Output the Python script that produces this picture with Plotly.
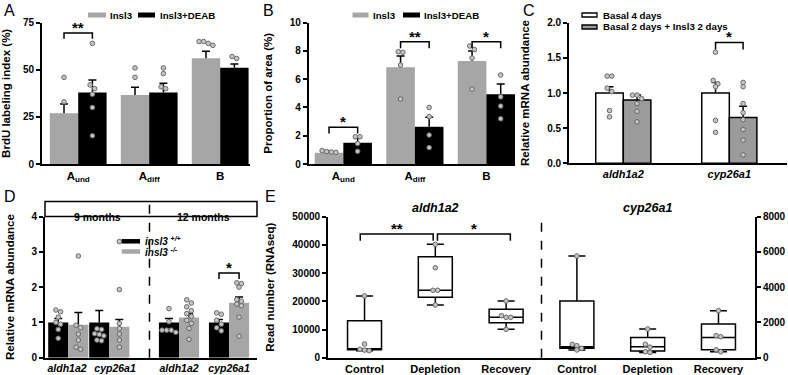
import plotly.graph_objects as go

FONT = "Liberation Sans, Arial, Helvetica, sans-serif"
W, H = 788, 375

# ------------------------------------------------------------------ data
# Panel A  (BrdU labeling index, %)
A_cats = ["A<sub>und</sub>", "A<sub>diff</sub>", "B"]
A_series = ["Insl3", "Insl3+DEAB"]
A_insl3_mean = [26.9, 36.6, 56.1]
A_insl3_top = [31.8, 40.7, 59.8]
A_insl3_pts = [[46, 33], [51, 46], [65, 65, 64, 63]]
A_deab_mean = [37.9, 37.9, 51.1]
A_deab_top = [44.6, 42.8, 53.1]
A_deab_pts = [[64, 42, 40, 37, 30, 15], [51, 48, 41, 40], [57, 56]]
A_ticks = [0, 25, 50, 75]
A_sig = [(0, 69.5, "**")]

# Panel B  (Proportion of area, %)
B_cats = ["A<sub>und</sub>", "A<sub>diff</sub>", "B"]
B_insl3_mean = [0.80, 6.84, 7.29]
B_insl3_top = [0.94, 7.64, 8.00]
B_insl3_pts = [[0.95, 0.88, 0.85, 0.82], [7.95, 7.9, 7.0, 4.6], [8.35, 8.1, 7.5, 5.3]]
B_deab_mean = [1.51, 2.64, 4.93]
B_deab_top = [1.82, 3.30, 5.66]
B_deab_pts = [[1.93, 1.93, 1.45, 0.9], [4.0, 3.35, 2.05, 1.16], [6.3, 4.75, 4.1, 3.2]]
B_ticks = [0, 2, 4, 6, 8, 10]
B_sig = [(0, 2.6, "*"), (1, 8.65, "**"), (2, 8.65, "*")]

# Panel C  (Relative mRNA abundance)
C_genes = ["aldh1a2", "cyp26a1"]
C_series = ["Basal 4 days", "Basal 2 days + Insl3 2 days"]
C_basal_mean = [1.0, 1.0]
C_basal_top = [1.09, 1.15]
C_basal_pts = [[1.24, 1.24, 1.07, 1.02, 0.75, 0.66], [1.58, 1.18, 1.13, 1.09, 0.61, 0.44]]
C_insl3_mean = [0.90, 0.65]
C_insl3_top = [0.97, 0.81]
C_insl3_pts = [[0.97, 0.97, 0.92, 0.85, 0.74, 0.59],
               [1.15, 1.09, 0.85, 0.72, 0.62, 0.48, 0.33, 0.12]]
C_ticks = [0, 0.5, 1.0, 1.5, 2.0]
C_sig = [(1, 1.72, "*")]

# Panel D  (Relative mRNA abundance, insl3 mutants)
D_genes = ["aldh1a2", "cyp26a1", "aldh1a2", "cyp26a1"]
D_ages = ["9 months", "12 months"]
D_series = ["<i>insl3 <sup>+/+</sup></i>", "<i>insl3 <sup>-/-</sup></i>"]
D_wt_mean = [1.0, 1.0, 1.0, 1.0]
D_wt_top = [1.11, 1.34, 1.11, 1.08]
D_wt_pts = [[1.35, 1.3, 1.15, 1.0, 0.95, 0.8, 0.55],
            [0.82, 0.8, 0.68, 0.66, 0.62, 0.5, 0.48],
            [1.39, 1.02, 0.78, 0.78, 0.78, 0.72],
            [1.27, 1.23, 1.06, 0.95, 0.85, 0.76]]
D_ko_mean = [0.93, 0.88, 1.14, 1.56]
D_ko_top = [1.28, 1.08, 1.25, 1.72]
D_ko_pts = [[2.88, 0.92, 0.85, 0.67, 0.5, 0.3, 0.24],
            [3.29, 1.93, 0.97, 0.82, 0.67, 0.5, 0.3],
            [1.64, 1.55, 1.44, 1.33, 1.25, 1.17, 1.06, 0.97, 0.83, 0.52],
            [2.12, 2.1, 2.0, 1.65, 1.6, 1.52, 1.47, 1.15, 0.61]]
D_ticks = [0, 1, 2, 3, 4]
D_sig = [(3, 2.40, "*")]

# Panel E  (Read number, RNAseq) - box plots
E_groups = ["Control", "Depletion", "Recovery"]
E_genes = ["aldh1a2", "cyp26a1"]
E_aldh_min = [2500, 18700, 10050]
E_aldh_q1 = [2800, 21400, 12400]
E_aldh_med = [3000, 23900, 14300]
E_aldh_q3 = [13100, 35800, 17150]
E_aldh_max = [21900, 40200, 20100]
E_aldh_pts = [[21900, 4850, 3000, 2700, 2500],
              [40200, 31900, 23900, 23900, 18700],
              [20100, 14900, 14300, 14300, 10050]]
E_cyp_min = [440, 300, 340]
E_cyp_q1 = [530, 380, 450]
E_cyp_med = [620, 620, 1150]
E_cyp_q3 = [3210, 1140, 1910]
E_cyp_max = [5770, 1630, 2670]
E_cyp_pts = [[5770, 760, 680, 530, 440],
             [1630, 760, 600, 340, 300],
             [2670, 1250, 1190, 450, 340]]
E_left_ticks = [0, 10000, 20000, 30000, 40000, 50000]
E_right_ticks = [0, 2000, 4000, 6000, 8000]
E_sig = [(0, 1, 43900, "**"), (1, 2, 43900, "*")]

# ------------------------------------------------------------------ layout constants (pixels)
PANEL = {
    "A": dict(px=(42, 250), py=(22.7, 164), xr=(-0.51, 2.42), yr=(0, 75)),
    "B": dict(px=(308.7, 515), py=(22.7, 164), xr=(-0.484, 2.40), yr=(0, 10)),
    "C": dict(px=(569, 787), py=(22.7, 163.3), xr=(-0.512, 1.544), yr=(0, 2)),
    "D": dict(px=(45, 257), py=(216.5, 357.7), xr=(-0.568, 4.602), yr=(0, 4)),
    "E": dict(px=(328, 755), py=(216.7, 357.7), xr=(-0.516, 5.516), yr=(0, 50000)),
}
D_POS = [0, 1, 2.7, 3.92]
D_LABEL_SHIFT = [-0.03, 0.14, 0, 0]
D_SPLIT = 1.98


def xdom(p):
    return [p["px"][0] / W, p["px"][1] / W]


def ydom(p):
    return [1 - p["py"][1] / H, 1 - p["py"][0] / H]


def pxx(p):
    return (p["px"][1] - p["px"][0]) / (p["xr"][1] - p["xr"][0])


def pxy(p, yr=None):
    yr = yr or p["yr"]
    return (p["py"][1] - p["py"][0]) / (yr[1] - yr[0])


def swarm(center, vals, kx, ky, d=4.6):
    """Spread points of similar value side by side (px spacing d)."""
    order = sorted(vals, reverse=True)
    rows, cur = [], []
    for v in order:
        if cur and abs(cur[0] - v) * ky > d * 0.9:
            rows.append(cur)
            cur = []
        cur.append(v)
    if cur:
        rows.append(cur)
    xs, ys = [], []
    for r in rows:
        n = len(r)
        for i, v in enumerate(r):
            xs.append(center + (i - (n - 1) / 2) * d / kx)
            ys.append(v)
    return xs, ys


fig = go.Figure()
shapes, annots = [], []

PT = dict(size=4.6, color="#c4c4c4", line=dict(color="#6a6a6a", width=1))


def legend_item(name, fill, outline, x0, x1, yc, tx, h=5, size=9.7):
    """Key swatch + label (paper pixels)."""
    shapes.append(dict(type="rect", xref="paper", yref="paper", x0=x0 / W, x1=x1 / W,
                       y0=1 - (yc + h / 2) / H, y1=1 - (yc - h / 2) / H, fillcolor=fill,
                       line=dict(color=outline or fill, width=1.3 if outline else 0)))
    annots.append(dict(xref="paper", yref="paper", x=tx / W, y=1 - yc / H, text=name,
                       showarrow=False, xanchor="left", yanchor="middle",
                       font=dict(size=size, weight="bold")))


def add_bars(ax, p, xpos, means, tops, pts, color, name, width, outline=None):
    kx, ky = pxx(p), pxy(p)
    fig.add_trace(go.Bar(
        x=xpos, y=means, width=width, name=name, showlegend=False,
        marker=dict(color=color, line=dict(color=outline or color, width=1.5 if outline else 0)),
        xaxis="x" + ax, yaxis="y" + ax, hoverinfo="skip"))
    # SEM (upper only) with cap
    cap = 4.0 / kx
    ex, ey = [], []
    for c, m, t in zip(xpos, means, tops):
        ex += [c, c, None, c - cap, c + cap, None]
        ey += [m, t, None, t, t, None]
    fig.add_trace(go.Scatter(x=ex, y=ey, mode="lines", line=dict(color="black", width=1.5),
                             xaxis="x" + ax, yaxis="y" + ax, showlegend=False, hoverinfo="skip"))
    sx, sy = [], []
    for c, vals in zip(xpos, pts):
        a, b = swarm(c, vals, kx, ky)
        sx += a
        sy += b
    fig.add_trace(go.Scatter(x=sx, y=sy, mode="markers", marker=PT,
                             xaxis="x" + ax, yaxis="y" + ax, showlegend=False, hoverinfo="skip"))


def bracket(ax, x0, x1, y, drop, text, size=15):
    shapes.append(dict(type="path", xref="x" + ax, yref="y" + ax,
                       path=f"M{x0},{y - drop} L{x0},{y} L{x1},{y} L{x1},{y - drop}",
                       line=dict(color="black", width=1.5)))
    annots.append(dict(xref="x" + ax, yref="y" + ax, x=(x0 + x1) / 2, y=y, text=text,
                       showarrow=False, yanchor="bottom", yshift=-5,
                       font=dict(size=size, color="black", weight="bold")))


GRAY = "#a6a6a6"
GRAY_C = "#9b9b9b"

# ---- A
pA = PANEL["A"]
wA = 0.4
add_bars("", pA, [i - wA / 2 for i in range(3)], A_insl3_mean, A_insl3_top, A_insl3_pts, GRAY, A_series[0], wA)
add_bars("", pA, [i + wA / 2 for i in range(3)], A_deab_mean, A_deab_top, A_deab_pts, "black", A_series[1], wA)
for i, y, t in A_sig:
    bracket("", i - wA / 2, i + wA / 2, y, 3.0, t)
legend_item(A_series[0], GRAY, None, 88, 106, 15, 108)
legend_item(A_series[1], "black", None, 138, 155, 15, 157.5)

# ---- B
pB = PANEL["B"]
add_bars("2", pB, [i - wA / 2 for i in range(3)], B_insl3_mean, B_insl3_top, B_insl3_pts, GRAY, A_series[0], wA)
add_bars("2", pB, [i + wA / 2 for i in range(3)], B_deab_mean, B_deab_top, B_deab_pts, "black", A_series[1], wA)
for i, y, t in B_sig:
    bracket("2", i - wA / 2, i + wA / 2, y, 0.45, t)
legend_item(A_series[0], GRAY, None, 352.5, 368.5, 15, 370.5)
legend_item(A_series[1], "black", None, 403, 420, 15, 422)

# ---- C
pC = PANEL["C"]
wC = 0.26
add_bars("3", pC, [i - wC / 2 for i in range(2)], C_basal_mean, C_basal_top, C_basal_pts, "white", C_series[0], wC, outline="black")
add_bars("3", pC, [i + wC / 2 for i in range(2)], C_insl3_mean, C_insl3_top, C_insl3_pts, GRAY_C, C_series[1], wC, outline="black")
for i, y, t in C_sig:
    bracket("3", i - wC / 2, i + wC / 2, y, 0.1, t)
legend_item(C_series[0], "white", "black", 582, 597, 15, 601, h=4)
legend_item(C_series[1], GRAY_C, "black", 582, 597, 27, 601, h=4)

# ---- D
pD = PANEL["D"]
wD = 0.49
add_bars("4", pD, [c - wD / 2 for c in D_POS], D_wt_mean, D_wt_top, D_wt_pts, "black", D_series[0], wD)
add_bars("4", pD, [c + wD / 2 for c in D_POS], D_ko_mean, D_ko_top, D_ko_pts, GRAY, D_series[1], wD)
for i, y, t in D_sig:
    bracket("4", D_POS[i] - wD / 2, D_POS[i] + wD / 2, y, 0.17, t)
legend_item(D_series[0], "black", None, 121.7, 140, 241.3, 142.5, h=4.5, size=10)
legend_item(D_series[1], GRAY, None, 121.7, 140, 251.5, 142.5, h=4.5, size=10)

# ---- E
pE = PANEL["E"]
wE = 0.48
for k, (mn, q1, md, q3, mx, pts, ya, yr) in enumerate([
        (E_aldh_min, E_aldh_q1, E_aldh_med, E_aldh_q3, E_aldh_max, E_aldh_pts, "y5", (0, 50000)),
        (E_cyp_min, E_cyp_q1, E_cyp_med, E_cyp_q3, E_cyp_max, E_cyp_pts, "y6", (0, 8000))]):
    pos = [k * 3 + i for i in range(3)]
    fig.add_trace(go.Box(x=pos, q1=q1, median=md, q3=q3, lowerfence=mn, upperfence=mx,
                         orientation="v", width=wE, whiskerwidth=0.5, boxpoints=False,
                         fillcolor="white", line=dict(color="black", width=1.5),
                         xaxis="x5", yaxis=ya, showlegend=False, hoverinfo="skip"))
    kx, ky = pxx(pE), pxy(pE, yr)
    sx, sy = [], []
    for c, vals in zip(pos, pts):
        a, b = swarm(c, vals, kx, ky)
        sx += a
        sy += b
    fig.add_trace(go.Scatter(x=sx, y=sy, mode="markers", marker=PT, xaxis="x5", yaxis=ya,
                             showlegend=False, hoverinfo="skip"))
for i, j, y, t in E_sig:
    bracket("5", i + (0.03 if i > 0 else -0.06), j - (0.03 if j < 2 else -0.06), y, 2400, t)

# ------------------------------------------------------------------ axes
LINE = dict(showline=True, linecolor="black", linewidth=1.8, showgrid=False, zeroline=False,
            fixedrange=True, automargin=False)


def xax(p, tv, tt, anchor, size=11, italic=False):
    return dict(domain=xdom(p), range=list(p["xr"]), tickvals=tv, ticktext=tt, ticks="",
                tickangle=0, tickfont=dict(size=size, style="italic" if italic else "normal"),
                anchor=anchor, **LINE)


def yax(p, ticks, title, anchor, fmt=None, yr=None, side="left", overlay=None):
    d = dict(range=list(yr or p["yr"]), tickvals=ticks, ticks="outside", ticklen=4, tickwidth=1.8,
             tickcolor="black", tickfont=dict(size=10), anchor=anchor, side=side, **LINE)
    if title:
        d["title"] = dict(text=title, font=dict(size=11.5))
    if overlay:
        d["overlaying"] = overlay
    else:
        d["domain"] = ydom(p)
    d["tickformat"] = fmt or "d"
    return d


fig.update_layout(
    xaxis=xax(pA, list(range(3)), A_cats, "y", size=11.5),
    yaxis=yax(pA, A_ticks, "BrdU labeling index (%)", "x"),
    xaxis2=xax(pB, list(range(3)), B_cats, "y2", size=11.5),
    yaxis2=yax(pB, B_ticks, "Proportion of area (%)", "x2"),
    xaxis3=xax(pC, list(range(2)), C_genes, "y3", italic=True),
    yaxis3=yax(pC, C_ticks, "Relative mRNA abundance", "x3", fmt=".1f"),
    xaxis4=xax(pD, [c + s for c, s in zip(D_POS, D_LABEL_SHIFT)], D_genes, "y4", size=10.5, italic=True),
    yaxis4=yax(pD, D_ticks, "Relative mRNA abundance", "x4"),
    xaxis5=xax(pE, list(range(6)), E_groups * 2, "y5"),
    yaxis5=yax(pE, E_left_ticks, "Read number (RNAseq)", "x5"),
    yaxis6=yax(pE, E_right_ticks, None, "x5", yr=(0, 8000), side="right", overlay="y5"),
)

# D header box and separators
shapes.append(dict(type="rect", xref="x4 domain", yref="y4 domain", x0=0, x1=1, y0=1, y1=1.106,
                   line=dict(color="black", width=1.5)))
shapes.append(dict(type="line", xref="x4", yref="y4 domain", x0=D_SPLIT, x1=D_SPLIT, y0=0, y1=1.106,
                   line=dict(color="black", width=1.5, dash="dash")))
for k, age in enumerate(D_ages):
    lo = pD["xr"][0] if k == 0 else D_SPLIT
    hi = D_SPLIT if k == 0 else pD["xr"][1]
    annots.append(dict(xref="x4", yref="y4 domain", x=(lo + hi) / 2, y=1.053, text=age,
                       showarrow=False, font=dict(size=10.5, weight="bold")))
# E separator and gene titles
shapes.append(dict(type="line", xref="x5", yref="y5 domain", x0=2.5, x1=2.5, y0=0, y1=1.01,
                   line=dict(color="black", width=1.5, dash="dash")))
for k, g in enumerate(E_genes):
    annots.append(dict(xref="x5", yref="y5 domain", x=k * 3 + 1, y=1.062, yanchor="middle", text=g,
                       showarrow=False, font=dict(size=12.5, style="italic", weight="bold")))
# panel letters
for letter, x, y in [("A", 2, 0), ("B", 261, 0), ("C", 521, 0), ("D", 2, 186), ("E", 263, 186)]:
    annots.append(dict(xref="paper", yref="paper", x=x / W, y=1 - y / H, text=letter,
                       showarrow=False, xanchor="left", yanchor="top",
                       font=dict(size=16, weight="normal")))

fig.update_layout(
    width=W, height=H, margin=dict(l=0, r=0, t=0, b=0), barmode="overlay",
    paper_bgcolor="white", plot_bgcolor="white",
    font=dict(family=FONT, size=10, color="black", weight="bold"),
    shapes=shapes, annotations=annots, showlegend=False,
)

fig.write_html("out.html", config={"displayModeBar": False},
               post_script="document.body.style.margin='0px';")
